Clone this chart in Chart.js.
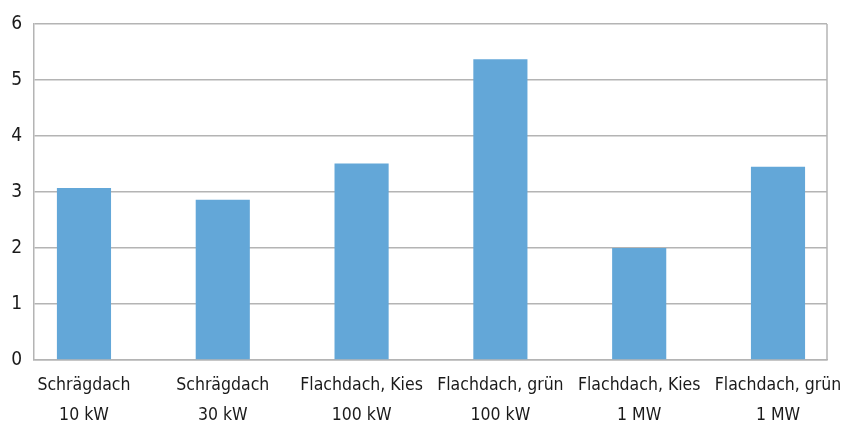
<!DOCTYPE html>
<html>
<head>
<meta charset="utf-8">
<script src="https://cdn.jsdelivr.net/npm/chart.js@4/dist/chart.umd.min.js"></script>
<style>
html,body{margin:0;padding:0;background:#fff;}
#wrap{width:843px;height:423px;position:relative;}
</style>
</head>
<body>
<div id="wrap"><canvas id="c" width="843" height="423"></canvas></div>
<script>
const categories = [
  ["Schrägdach", "10 kW"],
  ["Schrägdach", "30 kW"],
  ["Flachdach, Kies", "100 kW"],
  ["Flachdach, grün", "100 kW"],
  ["Flachdach, Kies", "1 MW"],
  ["Flachdach, grün", "1 MW"]
];
const values = [3.07, 2.86, 3.51, 5.37, 2.0, 3.45];
const yTicks = [0, 1, 2, 3, 4, 5, 6];

const FONT = "'Liberation Sans Narrow', 'DejaVu Sans Condensed', 'Roboto Condensed', sans-serif";

const frame = {
  id: 'frame',
  afterDatasetsDraw(chart) {
    const {ctx, chartArea: a} = chart;
    ctx.save();
    ctx.strokeStyle = '#b4b4b4';
    ctx.lineWidth = 1.5;
    ctx.beginPath();
    ctx.moveTo(a.right, a.top);
    ctx.lineTo(a.right, a.bottom);
    ctx.stroke();
    ctx.restore();
  }
};

new Chart(document.getElementById('c'), {
  type: 'bar',
  data: {
    datasets: [{
      data: values.map((v, i) => ({x: i, y: v})),
      backgroundColor: '#63a7d8',
      borderWidth: 0,
      categoryPercentage: 1,
      barPercentage: 0.39
    }]
  },
  plugins: [frame],
  options: {
    responsive: false,
    animation: false,
    layout: {padding: {top: 24, right: 16, left: 0, bottom: 0}},
    plugins: {legend: {display: false}, tooltip: {enabled: false}},
    scales: {
      x: {
        type: 'linear',
        offset: false,
        min: -0.36,
        max: 5.353,
        afterBuildTicks(scale) { scale.ticks = categories.map((c, i) => ({value: i})); },
        afterFit(scale) { scale.height = 63; scale.paddingLeft = 0; scale.paddingRight = 0; },
        grid: {display: false, drawTicks: false},
        border: {display: true, color: '#b4b4b4', width: 1.5},
        ticks: {
          autoSkip: false,
          maxRotation: 0,
          padding: 11,
          color: '#1a1a1a',
          font: {family: FONT, size: 17.5, lineHeight: 1.7},
          callback: (v) => categories[v]
        }
      },
      y: {
        min: 0,
        max: 6,
        afterBuildTicks(scale) { scale.ticks = yTicks.map(v => ({value: v})); },
        afterFit(scale) { scale.width = 34; },
        grid: {color: '#b4b4b4', lineWidth: 1.5, drawTicks: false},
        border: {display: true, color: '#b4b4b4', width: 1.5},
        ticks: {
          padding: 12,
          color: '#1a1a1a',
          font: {family: FONT, size: 19}
        }
      }
    }
  }
});
</script>
</body>
</html>
